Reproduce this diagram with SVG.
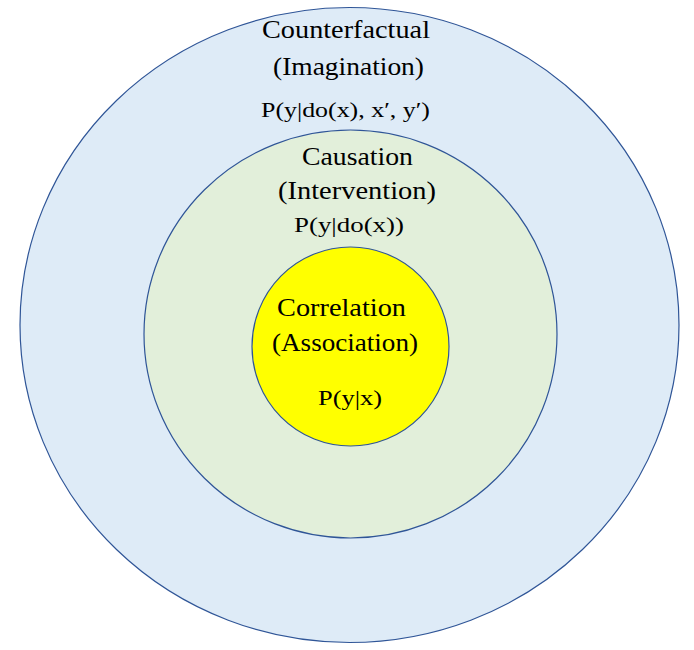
<svg xmlns="http://www.w3.org/2000/svg" width="694" height="650" viewBox="0 0 694 650">
<style>
.ring{stroke:#2F5597;stroke-width:1.2}
.lbl{font-family:"Liberation Serif","Times New Roman",serif;font-size:26px;fill:#000}
.math{font-family:"Liberation Serif","Times New Roman",serif;font-size:22px;fill:#000}
</style>
<rect width="694" height="650" fill="#ffffff"/>
<g id="counterfactual">
<ellipse class="ring" cx="349.5" cy="325" rx="329.5" ry="317.5" fill="#DEEBF7"/>
<text class="lbl" x="262" y="38" textLength="168" lengthAdjust="spacingAndGlyphs">Counterfactual</text>
<text class="lbl" x="273" y="75" textLength="151" lengthAdjust="spacingAndGlyphs">(Imagination)</text>
<text class="math" x="261" y="117" textLength="169" lengthAdjust="spacingAndGlyphs">P(y|do(x), x′, y′)</text>
</g>
<g id="causation">
<ellipse class="ring" cx="350.5" cy="334" rx="206.5" ry="204" fill="#E2EFDA"/>
<text class="lbl" x="302" y="165" textLength="111" lengthAdjust="spacingAndGlyphs">Causation</text>
<text class="lbl" x="278" y="199" textLength="158" lengthAdjust="spacingAndGlyphs">(Intervention)</text>
<text class="math" x="294" y="232" textLength="110" lengthAdjust="spacingAndGlyphs">P(y|do(x))</text>
</g>
<g id="correlation">
<ellipse class="ring" cx="350.5" cy="346.5" rx="98.5" ry="99.5" fill="#FFFF00"/>
<text class="lbl" x="277" y="316" textLength="129" lengthAdjust="spacingAndGlyphs">Correlation</text>
<text class="lbl" x="272" y="351" textLength="146" lengthAdjust="spacingAndGlyphs">(Association)</text>
<text class="math" x="318" y="405" textLength="64" lengthAdjust="spacingAndGlyphs">P(y|x)</text>
</g>
<g id="connectors"/>
</svg>
